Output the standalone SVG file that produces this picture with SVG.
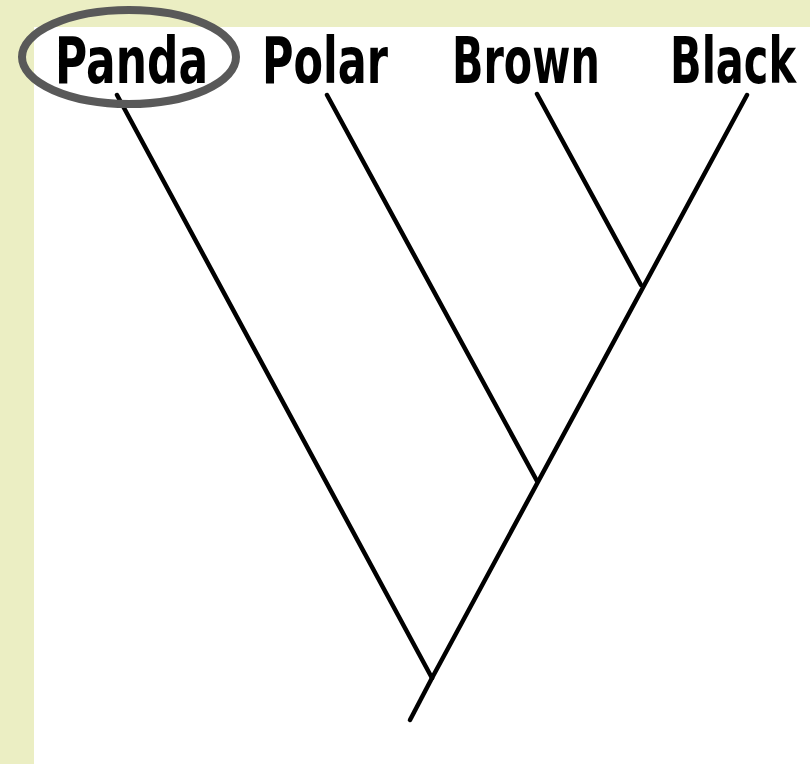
<svg xmlns="http://www.w3.org/2000/svg" width="810" height="764" viewBox="0 0 810 764">
<style>
.lbl{font-family:"DejaVu Sans","Liberation Sans",sans-serif;font-weight:bold;font-size:64px;fill:#000}
.br{stroke:#000;stroke-width:4.5;stroke-linecap:round;fill:none}
</style>
<rect x="0" y="0" width="810" height="764" fill="#ebeec3"/>
<rect x="34" y="27" width="776" height="737" fill="#ffffff"/>
<g id="connectors">
<line class="br" x1="117" y1="95" x2="432" y2="678"/>
<line class="br" x1="432" y1="678" x2="410" y2="720"/>
<line class="br" x1="432" y1="678" x2="747" y2="95"/>
<line class="br" x1="327" y1="95" x2="537" y2="481"/>
<line class="br" x1="537" y1="94" x2="641" y2="285"/>
</g>
<g id="panda">
<text class="lbl" transform="translate(55,83) scale(0.66,1)" textLength="232" lengthAdjust="spacingAndGlyphs">Panda</text>
<ellipse cx="129" cy="57" rx="107" ry="47" fill="none" stroke="#595959" stroke-width="8"/>
</g>
<g id="polar">
<text class="lbl" transform="translate(262,83) scale(0.66,1)" textLength="191" lengthAdjust="spacingAndGlyphs">Polar</text>
</g>
<g id="brown">
<text class="lbl" transform="translate(452,83) scale(0.66,1)" textLength="224" lengthAdjust="spacingAndGlyphs">Brown</text>
</g>
<g id="black">
<text class="lbl" transform="translate(670,83) scale(0.66,1)" textLength="191" lengthAdjust="spacingAndGlyphs">Black</text>
</g>
</svg>
